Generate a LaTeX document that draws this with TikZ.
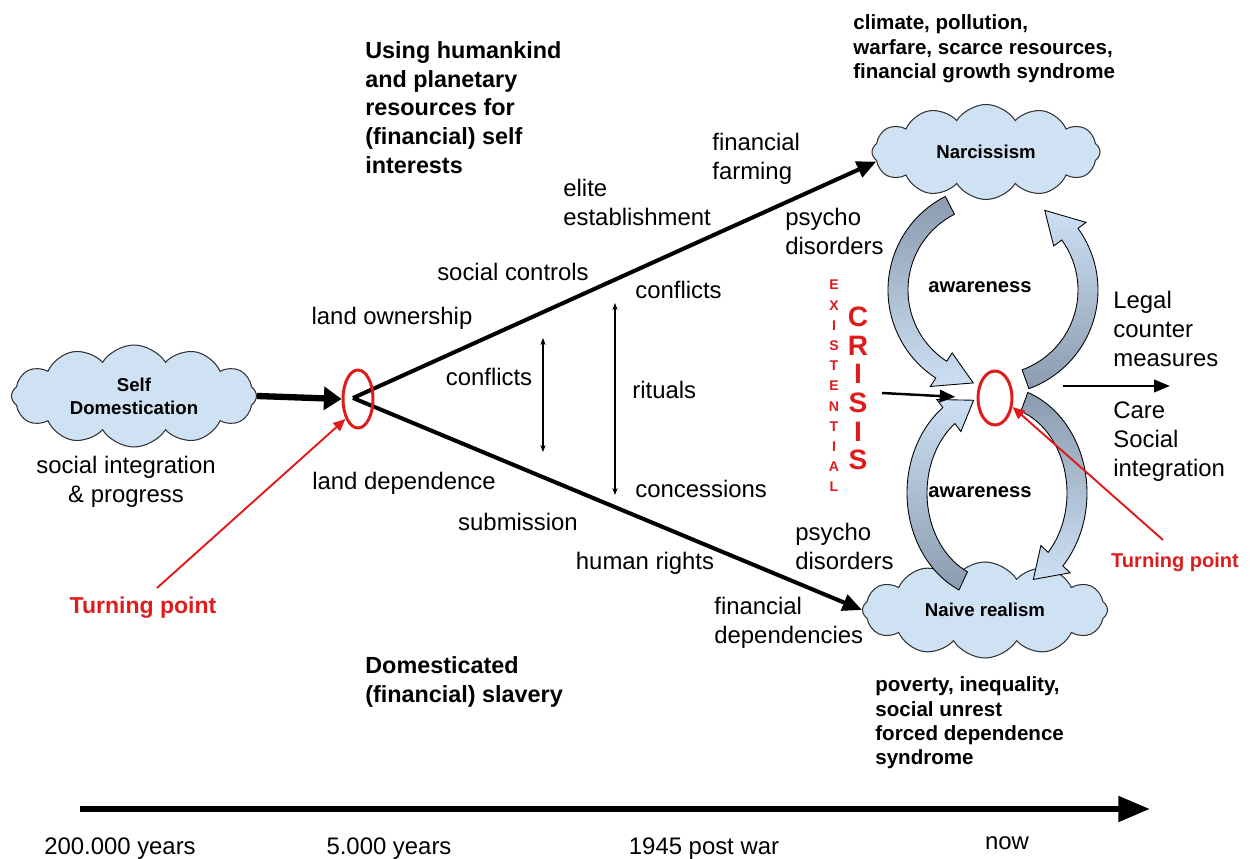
\documentclass[tikz,border=0pt]{standalone}
\usepackage{fontspec}
\setmainfont{Liberation Sans}
\usetikzlibrary{arrows.meta,shapes.geometric,shapes.symbols}

\definecolor{cloudblue}{RGB}{207,226,243}
\definecolor{bandlight}{RGB}{205,224,243}
\definecolor{banddark}{RGB}{140,155,175}
\definecolor{turnred}{RGB}{222,28,28}

\tikzset{
  cloudbox/.style={cloud, cloud puffs=12, cloud puff arc=115, aspect=2.4, draw=black!80, fill=cloudblue, line width=0.6pt, font=\fontsize{10.6}{13}\selectfont\bfseries, align=center},
  plain/.style={font=\fontsize{13.6}{16.5}\selectfont, align=left},
  headline/.style={font=\fontsize{13.3}{16.4}\selectfont\bfseries, align=left},
  effects/.style={font=\fontsize{11.7}{13.9}\selectfont\bfseries, align=left},
  turnring/.style={ellipse, draw=turnred, line width=1.7pt},
  redarrow/.style={draw=turnred, line width=1.1pt, -{Triangle[length=7pt,width=6pt]}},
  mainarrow/.style={line width=2.3pt, -{Triangle[length=11pt,width=9.5pt]}},
  thinarrow/.style={line width=0.6pt, {Stealth[length=4pt,width=3pt]}-{Stealth[length=4pt,width=3pt]}},
}

% curved band: centre, radii, tail angle, head start, tip angle, shading
\newcommand{\loopband}[8]{%
  \shade [#8, draw=black, line width=0.5pt, shift={(#1,#2)}]
    ({(#3+1)*cos(#5)},{(#4+1)*sin(#5)})
    arc [start angle=#5, end angle=#6, x radius=#3+1, y radius=#4+1]
    -- ({(#3+2)*cos(#6)},{(#4+2)*sin(#6)})
    -- ({#3*cos(#7)},{#4*sin(#7)})
    -- ({(#3-2)*cos(#6)},{(#4-2)*sin(#6)})
    -- ({(#3-1)*cos(#6)},{(#4-1)*sin(#6)})
    arc [start angle=#6, end angle=#5, x radius=#3-1, y radius=#4-1]
    -- cycle;}

\begin{document}
\begin{tikzpicture}[scale=0.2]
\tikzstyle{every node}+=[inner sep=0pt]
\useasboundingbox (0,0) rectangle (125,-85.9);
% clouds
\draw (13.4,-39.6) node [cloudbox, minimum width=4.9cm, minimum height=2.04cm] (selfdom) {Self\\Domestication};
\draw (98.6,-15.2) node [cloudbox, minimum width=4.56cm, minimum height=1.9cm] (narc) {Narcissism};
\draw (98.5,-61.0) node [cloudbox, minimum width=4.9cm, minimum height=1.92cm] (naive) {Naive realism};
% awareness loops
\loopband{99.3}{-29.0}{9.5}{9.5}{117}{237}{258}{top color=banddark, bottom color=bandlight}
\loopband{99.3}{-29.0}{9.5}{9.5}{-70}{36}{57}{top color=bandlight, bottom color=banddark}
\loopband{99.7}{-49.3}{8}{9.7}{245}{127}{107}{top color=bandlight, bottom color=banddark}
\loopband{99.7}{-49.3}{8}{9.7}{70}{-43}{-63}{top color=banddark, bottom color=bandlight}
\draw (98,-28.7) node [font=\fontsize{11.5}{13}\selectfont\bfseries] (awtop) {awareness};
\draw (98,-49.2) node [font=\fontsize{11.5}{13}\selectfont\bfseries] (awbot) {awareness};
% the two roads
\coordinate (fork) at (35.3,-39.8);
\draw [black, mainarrow] (fork) -- (narc.185);
\draw [black, mainarrow] (fork) -- (naive.west);
\draw (35.8,-39.9) node [turnring, minimum width=0.6cm, minimum height=1.16cm] (tpleft) {};
\draw (99.5,-39.8) node [turnring, minimum width=0.68cm, minimum height=1.08cm] (tpright) {};
\draw [black, line width=3.6pt, -{Triangle[length=10pt,width=13pt]}] (selfdom.east) -- (tpleft.west);
% crisis in and out
\coordinate (crisisin) at (88.2,-39.3);
\draw [black, line width=1.4pt, -{Triangle[length=9pt,width=7pt]}, shorten >=12pt] (crisisin) -- (tpright.west);
\coordinate (crisisout) at (106.3,-38.6);
\coordinate (legalout) at (117,-38.6);
\draw [black, line width=1.4pt, -{Triangle[length=9pt,width=7pt]}] (crisisout) -- (legalout);
% conflict ranges
\coordinate (cfa) at (54.3,-33.8);
\coordinate (cfb) at (54.3,-45.2);
\draw [black, thinarrow] (cfa) -- (cfb);
\coordinate (rta) at (61.5,-30.3);
\coordinate (rtb) at (61.5,-49.5);
\draw [black, thinarrow] (rta) -- (rtb);
% timeline
\coordinate (past) at (8,-80.9);
\coordinate (today) at (115,-80.9);
\draw [black, line width=3.4pt, -{Triangle[length=18pt,width=14pt]}] (past) -- (today);
\draw (12,-84.9) node [plain] (t1) {200.000 years};
\draw (38.9,-84.9) node [plain] (t2) {5.000 years};
\draw (70.4,-84.9) node [plain] (t3) {1945 post war};
\draw (100.7,-84.3) node [plain] (t4) {now};
% headings
\draw (36.5,-10.75) node [headline, anchor=west] (usehead) {Using humankind\\and planetary\\resources for\\(financial) self\\interests};
\draw (36.5,-68.2) node [headline, anchor=west] (slavehead) {Domesticated\\(financial) slavery};
\draw (85.3,-4.9) node [effects, anchor=west] (narcfx) {climate, pollution,\\warfare, scarce resources,\\financial growth syndrome};
\draw (87.5,-72.3) node [effects, anchor=west] (naivefx) {poverty, inequality,\\social unrest\\forced dependence\\syndrome};
% road labels
\draw (12.6,-48.15) node [plain, align=center] (sip) {social integration\\\& progress};
\draw (71.2,-15.9) node [plain, anchor=west] (ffarm) {financial\\farming};
\draw (56.3,-20.25) node [plain, anchor=west] (elite) {elite\\establishment};
\draw (51.3,-27.2) node [plain] (socctl) {social controls};
\draw (39.2,-31.8) node [plain] (landown) {land ownership};
\draw (63.5,-29.0) node [plain, anchor=west] (conflB) {conflicts};
\draw (48.9,-37.7) node [plain] (conflA) {conflicts};
\draw (63.2,-39.0) node [plain, anchor=west] (rituals) {rituals};
\draw (63.5,-48.9) node [plain, anchor=west] (concess) {concessions};
\draw (40.4,-48.3) node [plain] (landdep) {land dependence};
\draw (51.8,-52.2) node [plain] (submis) {submission};
\draw (64.5,-56.3) node [plain] (hrights) {human rights};
\draw (71.4,-62.25) node [plain, anchor=west] (fdep) {financial\\dependencies};
\draw (78.5,-23.1) node [plain, anchor=west] (psyA) {psycho\\disorders};
\draw (79.5,-54.6) node [plain, anchor=west] (psyB) {psycho\\disorders};
\draw (111.3,-32.85) node [plain, anchor=west] (legal) {Legal\\counter\\measures};
\draw (111.3,-44.15) node [plain, anchor=west] (care) {Care\\Social\\integration};
% existential crisis
\foreach \ch [count=\i] in {E,X,I,S,T,E,N,T,I,A,L}
  \draw (83.4,{-28.5-2.02*(\i-1)}) node [text=turnred, font=\fontsize{8}{8}\selectfont\bfseries] (ex\i) {\ch};
\foreach \ch [count=\i] in {C,R,I,S,I,S}
  \draw (85.8,{-31.7-2.86*(\i-1)}) node [text=turnred, font=\fontsize{16}{16}\selectfont\bfseries] (cr\i) {\ch};
% turning points
\draw (14.3,-60.8) node [text=turnred, font=\fontsize{13.1}{15}\selectfont\bfseries] (tlabL) {Turning point};
\draw (117.5,-56.2) node [text=turnred, font=\fontsize{11.4}{13}\selectfont\bfseries] (tlabR) {Turning point};
\coordinate (tpLfrom) at (15.7,-58.8);
\coordinate (tpRfrom) at (116.3,-54.0);
\draw [redarrow] (tpLfrom) -- (tpleft.238);
\draw [redarrow] (tpRfrom) -- (tpright.-27);
\end{tikzpicture}
\end{document}
